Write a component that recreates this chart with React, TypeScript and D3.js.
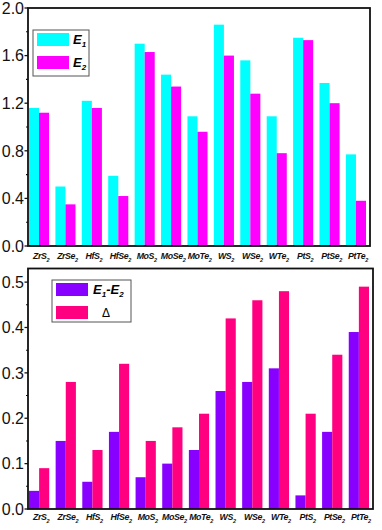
import React from 'react';
import { scaleBand, scaleLinear, range } from 'd3';

// categories (formula base, subscript 2)
const materials = ['ZrS', 'ZrSe', 'HfS', 'HfSe', 'MoS', 'MoSe', 'MoTe', 'WS', 'WSe', 'WTe', 'PtS', 'PtSe', 'PtTe'];

// top panel
const e1 = [1.16, 0.50, 1.22, 0.59, 1.70, 1.44, 1.09, 1.86, 1.56, 1.09, 1.75, 1.37, 0.77];
const e2 = [1.12, 0.35, 1.16, 0.42, 1.63, 1.34, 0.96, 1.60, 1.28, 0.78, 1.73, 1.20, 0.38];
const topTicks = [0.0, 0.4, 0.8, 1.2, 1.6, 2.0];

// bottom panel
const diff = [0.04, 0.15, 0.06, 0.17, 0.07, 0.10, 0.13, 0.26, 0.28, 0.31, 0.03, 0.17, 0.39];
const delta = [0.09, 0.28, 0.13, 0.32, 0.15, 0.18, 0.21, 0.42, 0.46, 0.48, 0.21, 0.34, 0.49];
const bottomTicks = [0.0, 0.1, 0.2, 0.3, 0.4, 0.5];

const W = 382;
const H = 530;
const FONT = 'Arial, "Liberation Sans", sans-serif';

interface PanelProps {
  left: number;
  right: number;
  top: number;
  bottom: number;
  yMax: number;
  ticks: number[];
  seriesA: number[];
  seriesB: number[];
  colorA: string;
  colorB: string;
  labelY: number;
  legend: React.ReactNode;
}

function Panel(p: PanelProps) {
  const x = scaleBand<string>()
    .domain(materials)
    .range([p.left + 1, p.right - 4])
    .paddingInner(0.24)
    .paddingOuter(0);
  const sub = scaleBand<number>().domain([0, 1]).range([0, x.bandwidth()]);
  const y = scaleLinear().domain([0, p.yMax]).range([p.bottom, p.top]);

  const step = p.ticks[1] - p.ticks[0];
  const minor = range(0, p.ticks.length - 1).map(i => p.ticks[i] + step / 2);

  return (
    <g>
      {materials.map((m, i) => (
        <g key={m} transform={`translate(${x(m)},0)`}>
          <rect x={sub(0)} width={sub.bandwidth()} y={y(p.seriesA[i])} height={y(0) - y(p.seriesA[i])} fill={p.colorA} />
          <rect x={sub(1)} width={sub.bandwidth()} y={y(p.seriesB[i])} height={y(0) - y(p.seriesB[i])} fill={p.colorB} />
        </g>
      ))}
      <rect x={p.left} y={p.top} width={p.right - p.left} height={p.bottom - p.top}
        fill="none" stroke="#111" strokeWidth={1.8} />
      {p.ticks.map(t => (
        <g key={t}>
          <line x1={p.left - 3.5} x2={p.left} y1={y(t)} y2={y(t)} stroke="#111" strokeWidth={1.3} />
          <text x={p.left - 4} y={y(t)} dy="0.36em" textAnchor="end" fontSize={16} fontFamily={FONT} fill="#111">
            {t.toFixed(1)}
          </text>
        </g>
      ))}
      {minor.map(t => (
        <line key={t} x1={p.left - 2} x2={p.left} y1={y(t)} y2={y(t)} stroke="#111" strokeWidth={1.1} />
      ))}
      {materials.map(m => (
        <text key={m} x={(x(m) ?? 0) + x.bandwidth() / 2 + 2} y={p.labelY} textAnchor="middle"
          fontSize={8.8} letterSpacing={-0.4} fontWeight="bold" fontStyle="italic" fontFamily={FONT} fill="#111">
          {m}
          <tspan fontSize={5.5} dy={2.5}>2</tspan>
        </text>
      ))}
      {p.legend}
    </g>
  );
}

function SwatchLegend(props: { x: number; y: number; w: number; h: number; colors: string[]; labels: React.ReactNode[] }) {
  const { x, y, w, h, colors, labels } = props;
  return (
    <g>
      <rect x={x} y={y} width={w} height={h} fill="white" stroke="#555" strokeWidth={1} />
      {colors.map((c, i) => (
        <g key={c}>
          <rect x={x + 4} y={y + 3 + i * 23} width={32} height={13} fill={c} />
          {labels[i]}
        </g>
      ))}
    </g>
  );
}

export default function App() {
  const topLegend = (
    <SwatchLegend x={33} y={30} w={56} h={46} colors={['#00FFFF', '#FF00FF']}
      labels={[
        <text key="a" x={73} y={44} fontSize={13} fontWeight="bold" fontStyle="italic" fontFamily={FONT}>
          E<tspan fontSize={8} dy={3}>1</tspan>
        </text>,
        <text key="b" x={73} y={67} fontSize={13} fontWeight="bold" fontStyle="italic" fontFamily={FONT}>
          E<tspan fontSize={8} dy={3}>2</tspan>
        </text>,
      ]} />
  );
  const bottomLegend = (
    <SwatchLegend x={52} y={280} w={79} h={42} colors={['#8800FF', '#FF0080']}
      labels={[
        <text key="a" x={93} y={294} fontSize={13} fontWeight="bold" fontStyle="italic" fontFamily={FONT}>
          E<tspan fontSize={8} dy={3}>1</tspan><tspan dy={-3}>-E</tspan><tspan fontSize={8} dy={3}>2</tspan>
        </text>,
        <text key="b" x={102} y={317} fontSize={12} fontFamily={FONT}>
          Δ
        </text>,
      ]} />
  );

  return (
    <svg width={W} height={H} style={{ position: 'absolute', left: 0, top: 0, background: 'white' }}>
      <Panel left={28} right={370} top={8} bottom={246} yMax={2.0} ticks={topTicks}
        seriesA={e1} seriesB={e2} colorA="#00FFFF" colorB="#FF00FF" labelY={259} legend={topLegend} />
      <Panel left={28} right={373} top={268.5} bottom={509} yMax={0.53} ticks={bottomTicks}
        seriesA={diff} seriesB={delta} colorA="#8800FF" colorB="#FF0080" labelY={520} legend={bottomLegend} />
    </svg>
  );
}
